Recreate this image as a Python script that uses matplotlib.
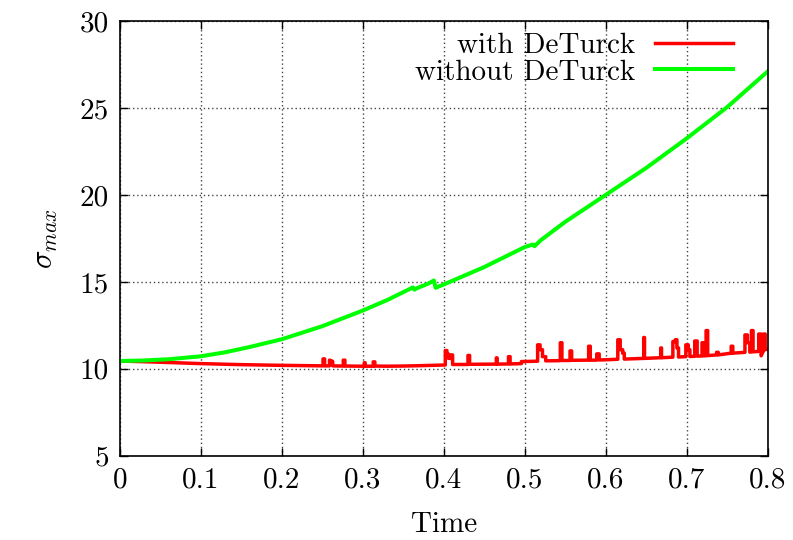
import numpy as np
import matplotlib
matplotlib.use("Agg")
import matplotlib.pyplot as plt

plt.rcParams['font.family'] = 'serif'
plt.rcParams['font.serif'] = ['cmr10', 'DejaVu Serif']
plt.rcParams['mathtext.fontset'] = 'cm'
plt.rcParams['axes.formatter.use_mathtext'] = True

# without DeTurck (smooth growth, two small glitches near 0.36-0.39 and 0.51)
green_t = [0.0, 0.03, 0.06, 0.1, 0.13, 0.16, 0.2, 0.25, 0.3, 0.33, 0.362, 0.364, 0.366,
           0.38, 0.388, 0.390, 0.40, 0.45, 0.50, 0.510, 0.512, 0.52, 0.55,
           0.60, 0.65, 0.70, 0.75, 0.80]
green_v = [10.45, 10.48, 10.55, 10.72, 10.95, 11.25, 11.7, 12.45, 13.35, 13.95, 14.68, 14.55, 14.62,
           14.88, 15.08, 14.66, 14.85, 15.85, 17.0, 17.15, 17.05, 17.4, 18.45,
           20.0, 21.55, 23.25, 25.05, 27.1]

# with DeTurck (flat baseline with many short vertical spikes)
red_t = [0.0, 0.05, 0.1, 0.15, 0.2,
         0.251, 0.251, 0.253, 0.253,
         0.259, 0.259, 0.262, 0.262, 0.263, 0.263,
         0.276, 0.276, 0.278, 0.278,
         0.302, 0.302, 0.303, 0.303,
         0.313, 0.313, 0.315, 0.315,
         0.33, 0.35, 0.37, 0.40,
         0.402, 0.402, 0.404, 0.404, 0.406, 0.406, 0.409, 0.409, 0.411, 0.411,
         0.430, 0.430, 0.432, 0.432,
         0.465, 0.465, 0.466, 0.466,
         0.480, 0.480, 0.482, 0.482,
         0.496, 0.496, 0.500,
         0.516, 0.516, 0.519, 0.519, 0.522, 0.522, 0.526, 0.526,
         0.544, 0.544, 0.546, 0.546,
         0.556, 0.556, 0.558, 0.558,
         0.579, 0.579, 0.581, 0.581,
         0.589, 0.589, 0.592, 0.592,
         0.60,
         0.615, 0.615, 0.618, 0.618, 0.621, 0.621, 0.623, 0.623,
         0.647, 0.647, 0.648, 0.648,
         0.668, 0.668, 0.669, 0.669,
         0.683, 0.683, 0.686, 0.686, 0.688, 0.688, 0.690, 0.690,
         0.699, 0.699, 0.702, 0.702, 0.704, 0.704,
         0.710, 0.710, 0.713, 0.713,
         0.719, 0.719, 0.721, 0.721,
         0.724, 0.724, 0.726, 0.726,
         0.737, 0.737, 0.739, 0.739,
         0.755, 0.755, 0.757, 0.757,
         0.772, 0.772, 0.775, 0.775, 0.778, 0.778,
         0.780, 0.780, 0.782, 0.782,
         0.789, 0.789, 0.792, 0.792,
         0.795, 0.795, 0.797, 0.797, 0.80]
red_v = [10.45, 10.38, 10.3, 10.24, 10.2,
         10.17, 10.57, 10.57, 10.17,
         10.17, 10.5, 10.45, 10.4, 10.4, 10.17,
         10.16, 10.5, 10.5, 10.16,
         10.15, 10.35, 10.35, 10.15,
         10.15, 10.4, 10.4, 10.16,
         10.15, 10.16, 10.18, 10.22,
         10.22, 11.05, 11.05, 10.85, 10.85, 10.6, 10.6, 10.8, 10.8, 10.25,
         10.25, 10.77, 10.77, 10.26,
         10.27, 10.63, 10.63, 10.27,
         10.28, 10.7, 10.7, 10.28,
         10.3, 10.42, 10.42,
         10.44, 11.38, 11.38, 11.1, 11.1, 10.7, 10.7, 10.46,
         10.47, 11.5, 11.5, 10.48,
         10.48, 11.03, 11.03, 10.49,
         10.5, 11.3, 11.3, 10.5,
         10.5, 10.86, 10.86, 10.51,
         10.52,
         10.55, 11.67, 11.67, 11.1, 11.1, 10.9, 10.9, 10.56,
         10.6, 11.8, 11.8, 10.6,
         10.64, 11.2, 11.2, 10.64,
         10.67, 11.57, 11.57, 11.67, 11.67, 11.2, 11.2, 10.68,
         10.7, 11.38, 11.38, 11.1, 11.1, 10.71,
         10.72, 11.6, 11.6, 10.73,
         10.74, 11.5, 11.5, 10.75,
         10.75, 12.2, 12.2, 10.76,
         10.8, 10.95, 10.95, 10.8,
         10.9, 11.3, 11.3, 10.9,
         10.95, 11.95, 11.95, 11.5, 11.5, 10.96,
         10.97, 12.2, 12.2, 10.98,
         11.0, 12.0, 12.0, 10.75,
         11.05, 12.0, 12.0, 11.1, 11.15]

xticks = [0, 0.1, 0.2, 0.3, 0.4, 0.5, 0.6, 0.7, 0.8]
xlabels = ['0', '0.1', '0.2', '0.3', '0.4', '0.5', '0.6', '0.7', '0.8']
yticks = [5, 10, 15, 20, 25, 30]

fig = plt.figure(figsize=(7.93, 5.40), dpi=100)
ax = fig.add_axes([0.151, 0.156, 0.817, 0.805])

ax.plot(red_t, red_v, color='#ff0000', lw=2.5, label='with DeTurck')
ax.plot(green_t, green_v, color='#00ff00', lw=2.9, label='without DeTurck')

ax.set_xlim(0, 0.8)
ax.set_ylim(5, 30)
ax.set_xticks(xticks)
ax.set_xticklabels(xlabels)
ax.set_yticks(yticks)
ax.set_yticklabels([str(v) for v in yticks])
ax.tick_params(direction='in', top=True, right=True, length=6, width=1,
               labelsize=21, pad=8)
ax.grid(True, color='#444444', linestyle=(0, (1, 2)), linewidth=1)
for s in ax.spines.values():
    s.set_linewidth(1.2)

ax.set_xlabel('Time', fontsize=21, labelpad=13)
ax.set_ylabel(r'$\sigma_{max}$', fontsize=22, labelpad=14)

leg = ax.legend(loc='upper right', bbox_to_anchor=(0.965, 1.0), frameon=False,
                markerfirst=False, fontsize=21, handlelength=2.7, borderaxespad=0.0,
                labelspacing=0.0, handletextpad=0.65)
for t in leg.get_texts():
    t.set_ha('right')

fig.savefig('out.png', dpi=100)
